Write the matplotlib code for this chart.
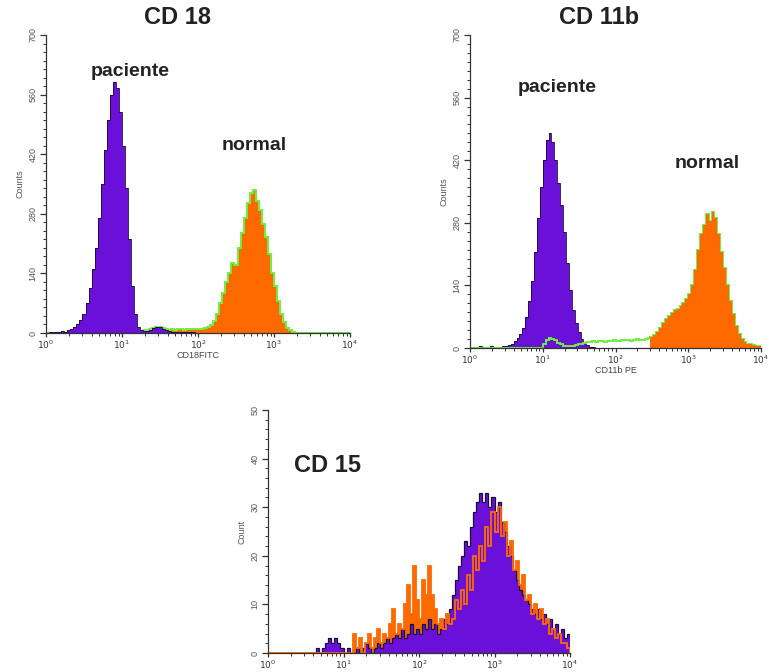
#! /usr/bin/env python

import numpy as np
import matplotlib
matplotlib.use('Agg')
from matplotlib import pyplot as plt
from matplotlib.ticker import MultipleLocator, FixedLocator

plt.rcParams['font.family'] = ['Liberation Sans', 'DejaVu Sans']

# channel bins: 25 per decade, 10^0 .. 10^4
edges = np.logspace(0, 4, 101)

# ---- CD 18 ----
cd18_paciente = [
    0, 2, 3, 2, 3, 4, 3, 6, 9, 14, 20, 30, 45, 70, 105, 150, 200, 270, 350, 430, 500, 560, 590, 575, 520,
    440, 340, 220, 110, 45, 15, 6, 4, 5, 8, 12, 14, 13, 10, 7, 4, 3, 2, 3, 2, 2, 3, 2, 2, 1,
    0, 0, 0, 0, 0, 0, 0, 0, 0, 0, 0, 0, 0, 0, 0, 0, 0, 0, 0, 0, 0, 0, 0, 0, 0,
    0, 0, 0, 0, 0, 0, 0, 0, 0, 0, 0, 0, 0, 0, 0, 0, 0, 0, 0, 0, 0, 0, 0, 0, 0,
]
cd18_normal = [
    0, 0, 0, 0, 0, 0, 0, 0, 0, 0, 0, 0, 0, 0, 0, 0, 0, 0, 0, 0, 0, 0, 0, 0, 0,
    0, 0, 0, 0, 0, 3, 5, 6, 8, 10, 12, 14, 13, 11, 9, 8, 9, 8, 9, 10, 8, 9, 10, 9, 10,
    9, 10, 11, 13, 18, 28, 45, 70, 95, 120, 140, 165, 160, 200, 235, 270, 305, 330, 335, 310, 290, 255, 225, 185, 140,
    110, 75, 45, 25, 12, 6, 3, 0, 0, 0, 0, 0, 0, 0, 0, 0, 0, 0, 0, 0, 0, 0, 0, 0, 0,
]

# ---- CD 11b ----
cd11b_paciente = [
    2, 3, 2, 4, 3, 2, 3, 4, 3, 2, 3, 4, 5, 7, 10, 15, 22, 32, 45, 70, 105, 150, 215, 290, 360,
    420, 465, 480, 460, 420, 370, 320, 260, 190, 130, 85, 55, 35, 20, 12, 6, 3, 2, 1, 0, 0, 0, 0, 0, 0,
    0, 0, 0, 0, 0, 0, 0, 0, 0, 0, 0, 0, 0, 0, 0, 0, 0, 0, 0, 0, 0, 0, 0, 0, 0,
    0, 0, 0, 0, 0, 0, 0, 0, 0, 0, 0, 0, 0, 0, 0, 0, 0, 0, 0, 0, 0, 0, 0, 0, 0,
]
cd11b_normal = [
    0, 0, 0, 0, 0, 0, 0, 0, 0, 0, 0, 0, 0, 0, 0, 0, 0, 0, 0, 0, 0, 0, 0, 0, 0,
    10, 18, 22, 20, 18, 12, 8, 5, 4, 4, 5, 6, 8, 10, 12, 14, 13, 15, 14, 16, 15, 14, 16, 15, 17,
    16, 15, 17, 18, 17, 16, 18, 20, 19, 18, 20, 22, 24, 28, 35, 45, 55, 65, 72, 78, 85, 88, 95, 100, 110,
    120, 140, 175, 220, 255, 275, 300, 285, 305, 290, 255, 215, 180, 140, 105, 75, 50, 32, 20, 14, 10, 8, 6, 5, 4,
]

# ---- CD 15 ----
cd15_paciente = [
    0, 0, 0, 0, 0, 0, 0, 0, 0, 0, 0, 0, 0, 0, 0, 0, 1, 0, 1, 2, 3, 2, 3, 2, 1,
    0, 1, 0, 0, 1, 0, 1, 2, 1, 0, 1, 2, 1, 2, 3, 2, 3, 4, 3, 5, 3, 4, 6, 4, 5,
    4, 6, 5, 7, 5, 6, 4, 5, 7, 6, 9, 12, 15, 18, 20, 23, 22, 26, 29, 31, 33, 31, 33, 30, 32,
    29, 31, 27, 25, 22, 20, 17, 15, 13, 12, 11, 10, 9, 8, 9, 7, 8, 6, 7, 5, 6, 4, 5, 3, 4,
]
cd15_normal = [
    0, 0, 0, 0, 0, 0, 0, 0, 0, 0, 0, 0, 0, 0, 0, 0, 0, 0, 0, 0, 0, 0, 0, 0, 0,
    0, 0, 0, 4, 1, 3, 0, 2, 4, 1, 3, 5, 2, 4, 3, 6, 9, 4, 6, 5, 10, 14, 8, 18, 11,
    7, 15, 12, 18, 12, 9, 6, 7, 5, 8, 6, 7, 11, 9, 13, 10, 16, 13, 20, 17, 22, 19, 26, 22, 29,
    25, 30, 24, 27, 20, 23, 17, 19, 14, 16, 11, 12, 8, 10, 7, 9, 6, 7, 4, 5, 3, 4, 2, 2, 1,
]

decade_labels = ['$10^0$', '$10^1$', '$10^2$', '$10^3$', '$10^4$']

PURPLE = '#6a10d8'
PURPLE_EDGE = '#1a0a3a'
ORANGE = '#ff6a00'
GREEN = '#6cf03c'

W, H = 770.0, 672.0


def px_axes(fig, x0, y0, x1, y1):
    # pixel box (top-left origin) -> figure axes
    return fig.add_axes([x0 / W, 1 - y1 / H, (x1 - x0) / W, (y1 - y0) / H])


def px_text(fig, x, y, s, **kw):
    fig.text(x / W, 1 - y / H, s, ha='center', va='center', **kw)


def style_axes(ax, ymax, ymajor, yminor, ylabel, xlabel):
    ax.set_xscale('log')
    ax.set_xlim(1, 1e4)
    ax.set_ylim(0, ymax)
    ax.spines['top'].set_visible(False)
    ax.spines['right'].set_visible(False)
    for s in ('left', 'bottom'):
        ax.spines[s].set_color('#333333')
        ax.spines[s].set_linewidth(0.9)
    ax.xaxis.set_major_locator(FixedLocator([1, 10, 100, 1000, 10000]))
    ax.set_xticklabels(decade_labels, fontsize=6.5, color='#333333')
    ax.yaxis.set_major_locator(MultipleLocator(ymajor))
    ax.yaxis.set_minor_locator(MultipleLocator(yminor))
    ax.tick_params(axis='y', which='major', labelsize=6.5, labelcolor='#555555',
                   length=4, width=0.9, color='#333333', pad=2, labelrotation=90)
    for lab in ax.get_yticklabels():
        lab.set_va('center')
    ax.tick_params(axis='y', which='minor', length=2, width=0.7, color='#333333')
    ax.tick_params(axis='x', which='major', length=3, width=0.9, color='#333333', pad=1)
    ax.tick_params(axis='x', which='minor', length=2, width=0.7, color='#333333')
    ax.set_ylabel(ylabel, fontsize=6.5, color='#555555', labelpad=3)
    if xlabel:
        ax.set_xlabel(xlabel, fontsize=6.5, color='#444444', labelpad=0)
    ax.patch.set_alpha(0)


fig = plt.figure(figsize=(7.7, 6.72), dpi=100)

# CD 18
ax1 = px_axes(fig, 46, 35, 350, 333)
ax1.stairs(cd18_normal, edges, fill=True, color=ORANGE)
ax1.stairs(cd18_normal, edges, color=GREEN, lw=1.4)
ax1.stairs(cd18_paciente, edges, fill=True, color=PURPLE)
ax1.stairs(cd18_paciente, edges, color=PURPLE_EDGE, lw=0.6)
style_axes(ax1, 700, 140, 20, 'Counts', 'CD18FITC')

# CD 11b
ax2 = px_axes(fig, 470, 35, 761, 348)
ax2.stairs(cd11b_paciente, edges, fill=True, color=PURPLE)
ax2.stairs(cd11b_paciente, edges, color=PURPLE_EDGE, lw=0.6)
ax2.stairs(cd11b_normal, edges, fill=False, color=GREEN, lw=1.4)
ax2.stairs(np.where(edges[:-1] > 300, cd11b_normal, 0), edges, fill=True, color=ORANGE)
style_axes(ax2, 700, 140, 20, 'Counts', 'CD11b PE')

# CD 15
ax3 = px_axes(fig, 268, 410, 570, 653)
ax3.stairs(cd15_normal, edges, fill=True, color=ORANGE)
ax3.stairs(cd15_paciente, edges, fill=True, color=PURPLE)
ax3.stairs(cd15_paciente, edges, color=PURPLE_EDGE, lw=0.9)
ax3.stairs(cd15_normal, edges, color=ORANGE, lw=1.3)
style_axes(ax3, 50, 10, 2, 'Count', None)

# titles and annotations
px_text(fig, 177, 18, 'CD 18', fontsize=17, fontweight='bold', color='#222222')
px_text(fig, 599, 17, 'CD 11b', fontsize=17, fontweight='bold', color='#222222')
px_text(fig, 327, 465, 'CD 15', fontsize=17, fontweight='bold', color='#222222')
px_text(fig, 130, 71, 'paciente', fontsize=14, fontweight='bold', color='#222222')
px_text(fig, 254, 146, 'normal', fontsize=14, fontweight='bold', color='#222222')
px_text(fig, 557, 87, 'paciente', fontsize=14, fontweight='bold', color='#222222')
px_text(fig, 707, 164, 'normal', fontsize=14, fontweight='bold', color='#222222')

fig.savefig('out.png', dpi=100)
